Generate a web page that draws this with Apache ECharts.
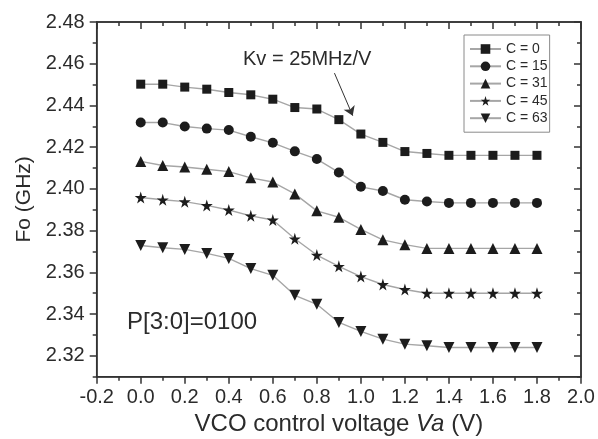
<!DOCTYPE html>
<html>
<head>
<meta charset="utf-8">
<script src="https://cdn.jsdelivr.net/npm/echarts@6/dist/echarts.min.js"></script>
<style>
  html, body { margin: 0; padding: 0; background: #fff; }
  #chart { width: 598px; height: 439px; }
</style>
</head>
<body>
<div id="chart"></div>
<script>
// Control voltage sweep (V)
const voltages = [0.0, 0.1, 0.2, 0.3, 0.4, 0.5, 0.6, 0.7, 0.8, 0.9, 1.0, 1.1, 1.2, 1.3, 1.4, 1.5, 1.6, 1.7, 1.8];

// Oscillation frequency (GHz) for each capacitor-bank code
const fC0  = [2.4502, 2.4502, 2.4488, 2.4478, 2.4462, 2.4451, 2.4430, 2.4390, 2.4383, 2.4332, 2.4263, 2.4223, 2.4179, 2.4170, 2.4161, 2.4161, 2.4161, 2.4161, 2.4161];
const fC15 = [2.4318, 2.4318, 2.4299, 2.4289, 2.4282, 2.4250, 2.4221, 2.4180, 2.4143, 2.4079, 2.4010, 2.3990, 2.3948, 2.3940, 2.3933, 2.3933, 2.3933, 2.3933, 2.3933];
const fC31 = [2.4132, 2.4112, 2.4105, 2.4094, 2.4083, 2.4053, 2.4033, 2.3976, 2.3895, 2.3864, 2.3806, 2.3756, 2.3733, 2.3715, 2.3715, 2.3715, 2.3715, 2.3715, 2.3715];
const fC45 = [2.3959, 2.3948, 2.3939, 2.3921, 2.3899, 2.3871, 2.3851, 2.3761, 2.3683, 2.3629, 2.3580, 2.3542, 2.3518, 2.3500, 2.3500, 2.3500, 2.3500, 2.3500, 2.3500];
const fC63 = [2.3729, 2.3718, 2.3710, 2.3691, 2.3667, 2.3618, 2.3586, 2.3490, 2.3447, 2.3360, 2.3317, 2.3280, 2.3256, 2.3248, 2.3240, 2.3240, 2.3240, 2.3240, 2.3240];

const seriesNames = ['C = 0', 'C = 15', 'C = 31', 'C = 45', 'C = 63'];

// Axis ticks
const yMajorTicks = [2.32, 2.34, 2.36, 2.38, 2.40, 2.42, 2.44, 2.46, 2.48];
const yMinorTicks = [2.31, 2.33, 2.35, 2.37, 2.39, 2.41, 2.43, 2.45, 2.47];

// Kv annotation arrow (data coordinates)
const arrowStart = [0.88, 2.4555];
const arrowEnd = [0.963, 2.4351];

const FONT = '"Liberation Sans", Arial, Helvetica, sans-serif';
const INK = '#2b2b2b';
const LINE_GRAY = '#a6a6a6';
const MARK = '#1c1c1c';
const AXIS_INK = '#333';
const Y_MIN = 2.31, Y_MAX = 2.48, X_MIN = -0.2, X_MAX = 2.0;

const symbols = [
  'rect',
  'circle',
  'triangle',
  'path://M50,0 L61,35 L98,35 L68,57 L79,91 L50,70 L21,91 L32,57 L2,35 L39,35 Z',
  'path://M0,0 L10,0 L5,9 Z'
];
const symbolSizes = [9, 10, 11, 12, 11];
const values = [fC0, fC15, fC31, fC45, fC63];

const chart = echarts.init(document.getElementById('chart'));

const series = values.map((vals, i) => {
  const s = {
    name: seriesNames[i],
    type: 'line',
    xAxisIndex: 0,
    yAxisIndex: 0,
    data: voltages.map((v, k) => [v, vals[k]]),
    symbol: symbols[i],
    symbolSize: symbolSizes[i],
    showAllSymbol: true,
    lineStyle: { color: LINE_GRAY, width: 1.4 },
    itemStyle: { color: MARK, borderWidth: 0 },
    emphasis: { disabled: true },
    z: 3
  };
  if (i === 0) {
    s.markLine = {
      silent: true,
      symbol: ['none', 'arrow'],
      symbolSize: 9,
      label: { show: false },
      lineStyle: { color: AXIS_INK, width: 1, type: 'solid' },
      emphasis: { disabled: true },
      data: [[{ coord: arrowStart }, { coord: arrowEnd }]]
    };
  }
  return s;
});

// helpers for the frame axes
const lineOf = show => ({ show: show, onZero: false, lineStyle: { color: AXIS_INK, width: 1.5 } });
const ticksOf = (inside, length, custom) => {
  const t = { show: true, inside: inside, length: length, lineStyle: { color: AXIS_INK, width: 1.5 } };
  if (custom) t.customValues = custom.slice();
  return t;
};
const gridBox = () => ({ left: 96.7, right: 17, top: 22, bottom: 62.3, containLabel: false, outerBoundsMode: 'none' });

// grid 0 carries the data and draws the closed frame; grid 1 only adds the minor y ticks
const frameGrid = Object.assign(gridBox(), { show: true, borderColor: AXIS_INK, borderWidth: 1.5, backgroundColor: 'transparent' });

chart.setOption({
  animation: false,
  backgroundColor: '#fff',
  textStyle: { fontFamily: FONT },
  grid: [frameGrid, gridBox()],
  legend: {
    orient: 'vertical',
    left: 464,
    top: 35,
    padding: [7, 2, 7, 5],
    itemWidth: 31,
    itemHeight: 12,
    itemGap: 3.3,
    borderColor: '#8a8a8a',
    borderWidth: 1,
    data: seriesNames,
    textStyle: { fontFamily: FONT, fontSize: 14, color: INK, lineHeight: 14 },
    selectedMode: false
  },
  xAxis: [
    {
      type: 'value',
      gridIndex: 0,
      position: 'bottom',
      min: X_MIN,
      max: X_MAX,
      interval: 0.2,
      name: 'VCO control voltage {i|Va} (V)',
      nameLocation: 'middle',
      nameGap: 35,
      nameTextStyle: {
        fontFamily: FONT, fontSize: 24, color: INK,
        rich: { i: { fontStyle: 'italic', fontFamily: FONT, fontSize: 24, color: INK } }
      },
      axisLine: lineOf(true),
      axisTick: ticksOf(false, 7),
      minorTick: { show: true, splitNumber: 2, length: 4, lineStyle: { color: AXIS_INK, width: 1.5 } },
      axisLabel: { fontFamily: FONT, fontSize: 20, color: INK, margin: 11, formatter: v => v.toFixed(1) },
      splitLine: { show: false }
    },
    {
      type: 'value',
      gridIndex: 0,
      position: 'top',
      min: X_MIN,
      max: X_MAX,
      interval: 0.2,
      axisLine: lineOf(true),
      axisTick: ticksOf(true, 7),
      minorTick: { show: true, splitNumber: 2, length: 4, lineStyle: { color: AXIS_INK, width: 1.5 } },
      axisLabel: { show: false },
      splitLine: { show: false }
    },
    {
      type: 'value',
      gridIndex: 1,
      position: 'bottom',
      min: X_MIN,
      max: X_MAX,
      interval: 0.2,
      axisLine: lineOf(false),
      axisTick: { show: false },
      axisLabel: { show: false },
      splitLine: { show: false }
    }
  ],
  yAxis: [
    {
      type: 'value',
      gridIndex: 0,
      position: 'left',
      min: Y_MIN,
      max: Y_MAX,
      name: 'Fo (GHz)',
      nameLocation: 'middle',
      nameGap: 62,
      nameTextStyle: { fontFamily: FONT, fontSize: 21, color: INK },
      axisLine: lineOf(true),
      axisTick: ticksOf(false, 7, yMajorTicks),
      axisLabel: { fontFamily: FONT, fontSize: 20, color: INK, margin: 12, customValues: yMajorTicks.slice(), formatter: v => v.toFixed(2) },
      splitLine: { show: false }
    },
    {
      type: 'value',
      gridIndex: 0,
      position: 'right',
      min: Y_MIN,
      max: Y_MAX,
      axisLine: lineOf(true),
      axisTick: ticksOf(true, 7, yMajorTicks),
      axisLabel: { show: false },
      splitLine: { show: false }
    },
    {
      type: 'value',
      gridIndex: 1,
      position: 'left',
      min: Y_MIN,
      max: Y_MAX,
      axisLine: lineOf(false),
      axisTick: ticksOf(false, 4, yMinorTicks),
      axisLabel: { show: false },
      splitLine: { show: false }
    },
    {
      type: 'value',
      gridIndex: 1,
      position: 'right',
      min: Y_MIN,
      max: Y_MAX,
      axisLine: lineOf(false),
      axisTick: ticksOf(true, 4, yMinorTicks),
      axisLabel: { show: false },
      splitLine: { show: false }
    }
  ],
  graphic: [
    {
      type: 'text',
      left: 243,
      top: 49,
      silent: true,
      style: { text: 'Kv = 25MHz/V', fontFamily: FONT, fontSize: 20, fill: INK }
    },
    {
      type: 'text',
      left: 127,
      top: 310,
      silent: true,
      style: { text: 'P[3:0]=0100', fontFamily: FONT, fontSize: 24, fill: INK }
    }
  ],
  series: series
});
</script>
</body>
</html>
